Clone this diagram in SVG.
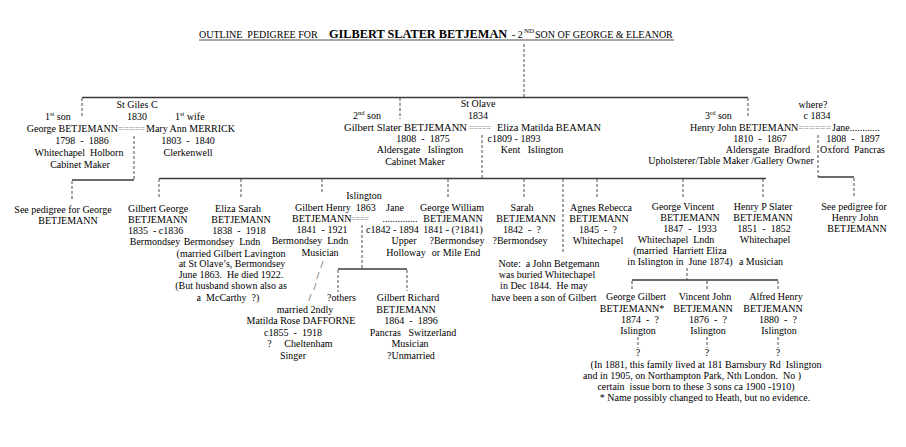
<svg xmlns="http://www.w3.org/2000/svg" width="906" height="447" viewBox="0 0 906 447">
<style>
text{font-family:"Liberation Serif","Times New Roman",serif;font-size:10px;fill:#000;white-space:pre}
.c{text-anchor:middle}
.e{text-anchor:end}
.eq{fill:#8a8a8a}
.sup{font-size:6.5px}
.h{stroke:#3a3a3a;stroke-width:1.4;fill:none}
.d{stroke:#4a4a4a;stroke-width:1;stroke-dasharray:3 2;fill:none}
</style>
<rect width="906" height="447" fill="#ffffff"/>
<g id="title">
<text x="199" y="37.5" style="font-size:10px">OUTLINE  PEDIGREE FOR</text>
<text x="329" y="37.5" style="font-size:12.3px;font-weight:bold">GILBERT SLATER BETJEMAN</text>
<text x="512" y="37.5">- 2</text>
<text x="524" y="33" style="font-size:7px">ND</text>
<text x="535" y="37.5">SON OF GEORGE &amp; ELEANOR</text>
<line x1="199" y1="40" x2="674" y2="40" stroke="#222" stroke-width="0.8"/>
</g>
<g id="connectors">
<path class="d" d="M524 44V97"/>
<path class="h" d="M82 97.5H748"/>
<path class="d" d="M82 98V116M400 98V119M748 98V116"/>
<path class="d" d="M134 136V180M72 181V199"/>
<path class="h" d="M72 180H134"/>
<path class="d" d="M482 135V178"/>
<path class="d" d="M818 135V177M854 178V198"/>
<path class="h" d="M818 177H854"/>
<path class="h" d="M159 178.5H766"/>
<path class="d" d="M159 179V199M241 179V199M322 179V192M448 179V198M524 179V198M563 179V254M597 179V199M683 179V199M763 179V199"/>
<path class="d" d="M362 225V269M338 270V292M407 270V291"/>
<path class="h" d="M338 269H407"/>
<path class="d" d="M687 268V280M632 281V291M707 281V291M778 281V291"/>
<path class="h" d="M632 280H778"/>
<path class="d" d="M638 337V348M707 337V348M778 337V348"/>
</g>
<g id="george">
<text class="c" x="137" y="108">St Giles C</text>
<text class="c" x="137" y="120">1830</text>
<text x="45" y="120">1<tspan class="sup" dy="-4">st</tspan><tspan dy="4"> son</tspan></text>
<text x="175" y="120">1<tspan class="sup" dy="-4">st</tspan><tspan dy="4"> wife</tspan></text>
<text class="e" x="118" y="132">George BETJEMANN</text>
<text class="eq" x="118" y="132" textLength="27" lengthAdjust="spacingAndGlyphs">=====</text>
<text x="146" y="132">Mary Ann MERRICK</text>
<text class="c" x="82" y="144">1798  -  1886</text>
<text class="c" x="188" y="144">1803  -  1840</text>
<text class="c" x="79" y="156">Whitechapel  Holborn</text>
<text class="c" x="188" y="156">Clerkenwell</text>
<text class="c" x="80" y="168">Cabinet Maker</text>
</g>
<g id="gilbert_slater">
<text class="c" x="478" y="107">St Olave</text>
<text class="c" x="478" y="119">1834</text>
<text x="353" y="119">2<tspan class="sup" dy="-4">nd</tspan><tspan dy="4"> son</tspan></text>
<text class="e" x="467" y="131" style="font-size:10.6px">Gilbert Slater BETJEMANN</text>
<text class="eq" x="469" y="131" textLength="22" lengthAdjust="spacingAndGlyphs">=====</text>
<text x="497" y="131" style="font-size:10.4px">Eliza Matilda BEAMAN</text>
<text class="c" x="423" y="142">1808  -  1875</text>
<text class="c" x="514" y="142">c1809 - 1893</text>
<text class="c" x="420" y="153">Aldersgate   Islington</text>
<text class="c" x="532" y="153">Kent   Islington</text>
<text class="c" x="415" y="165">Cabinet Maker</text>
</g>
<g id="henry_john">
<text class="c" x="813" y="108">where?</text>
<text class="c" x="817" y="119">c 1834</text>
<text x="705" y="119">3<tspan class="sup" dy="-4">rd</tspan><tspan dy="4"> son</tspan></text>
<text x="690" y="131">Henry John BETJEMANN</text>
<text class="eq" x="798" y="131" textLength="33" lengthAdjust="spacingAndGlyphs">======</text>
<text x="832" y="131">Jane............</text>
<text class="c" x="760" y="142">1810  -  1867</text>
<text class="c" x="853" y="142">1808  -  1897</text>
<text class="c" x="768" y="153">Aldersgate  Bradford</text>
<text x="820" y="153">Oxford  Pancras</text>
<text class="c" x="731" y="164">Upholsterer/Table Maker /Gallery Owner</text>
</g>
<g id="see_george">
<text class="c" x="63" y="213">See pedigree for George</text>
<text class="c" x="68" y="224">BETJEMANN</text>
</g>
<g id="see_henry">
<text class="c" x="854" y="210">See pedigree for</text>
<text class="c" x="855" y="221">Henry John</text>
<text class="c" x="857" y="232">BETJEMANN</text>
</g>
<g id="gilbert_george">
<text x="128" y="212">Gilbert George</text>
<text x="128" y="223">BETJEMANN</text>
<text x="128" y="234">1835  - c1836</text>
<text class="c" x="155" y="245">Bermondsey</text>
</g>
<g id="eliza_sarah">
<text class="c" x="238" y="212">Eliza Sarah</text>
<text class="c" x="241" y="223">BETJEMANN</text>
<text class="c" x="239" y="234">1838  -  1918</text>
<text class="c" x="222" y="245">Bermondsey  Lndn</text>
<text class="c" x="231" y="257">(married Gilbert Lavington</text>
<text class="c" x="232" y="267">at St Olave’s, Bermondsey</text>
<text class="c" x="231" y="278">June 1863.  He died 1922.</text>
<text class="c" x="231" y="289">(But husband shown also as</text>
<text class="c" x="228" y="301">a  McCarthy  ?)</text>
</g>
<g id="gilbert_henry">
<text class="c" x="364" y="199">Islington</text>
<text x="295" y="211">Gilbert Henry  1863</text>
<text x="292" y="222">BETJEMANN</text>
<text class="eq" x="351" y="222" textLength="18" lengthAdjust="spacingAndGlyphs">====</text>
<text class="c" x="322" y="233">1841  - 1921</text>
<text class="c" x="310" y="244">Bermondsey  Lndn</text>
<text class="c" x="320" y="256">Musician</text>
<text class="c" x="322" y="268">/</text>
<text class="c" x="318" y="279">/</text>
<text class="c" x="315" y="290">/</text>
<text class="c" x="310" y="301">/</text>
</g>
<g id="others">
<text x="327" y="301">?others</text>
</g>
<g id="matilda">
<text class="c" x="305" y="313">married 2ndly</text>
<text class="c" x="301" y="324">Matilda Rose DAFFORNE</text>
<text class="c" x="293" y="336">c1855  -  1918</text>
<text class="c" x="300" y="347">?     Cheltenham</text>
<text class="c" x="293" y="359">Singer</text>
</g>
<g id="jane">
<text class="c" x="395" y="211">Jane</text>
<text class="c" x="400" y="222">..............</text>
<text x="366" y="233">c1842 - 1894</text>
<text class="c" x="404" y="244">Upper</text>
<text class="c" x="406" y="256">Holloway</text>
</g>
<g id="gilbert_richard">
<text class="c" x="408" y="301">Gilbert Richard</text>
<text class="c" x="406" y="313">BETJEMANN</text>
<text class="c" x="411" y="324">1864  -  1896</text>
<text class="c" x="413" y="336">Pancras   Switzerland</text>
<text class="c" x="410" y="347">Musician</text>
<text class="c" x="411" y="359">?Unmarried</text>
</g>
<g id="george_william">
<text class="c" x="452" y="211">George William</text>
<text class="c" x="453" y="222">BETJEMANN</text>
<text class="c" x="453" y="233">1841 - (?1841)</text>
<text class="c" x="457" y="244">?Bermondsey</text>
<text class="c" x="456" y="256">or Mile End</text>
</g>
<g id="sarah">
<text class="c" x="522" y="211">Sarah</text>
<text class="c" x="526" y="222">BETJEMANN</text>
<text class="c" x="522" y="233">1842  -  ?</text>
<text class="c" x="520" y="244">?Bermondsey</text>
</g>
<g id="note">
<text class="c" x="549" y="267">Note:  a John Betgemann</text>
<text class="c" x="547" y="278">was buried Whitechapel</text>
<text class="c" x="544" y="289">in Dec 1844.  He may</text>
<text class="c" x="544" y="301">have been a son of Gilbert</text>
</g>
<g id="agnes">
<text class="c" x="601" y="211">Agnes Rebecca</text>
<text class="c" x="599" y="222">BETJEMANN</text>
<text class="c" x="598" y="233">1845  -  ?</text>
<text class="c" x="598" y="244">Whitechapel</text>
</g>
<g id="george_vincent">
<text class="c" x="683" y="210">George Vincent</text>
<text class="c" x="690" y="221">BETJEMANN</text>
<text class="c" x="690" y="232">1847  -  1933</text>
<text class="c" x="676" y="243">Whitechapel  Lndn</text>
<text class="c" x="680" y="254">(married  Harriett Eliza</text>
<text class="c" x="680" y="265">in Islington in  June 1874)</text>
</g>
<g id="henry_p">
<text class="c" x="763" y="210">Henry P Slater</text>
<text class="c" x="763" y="221">BETJEMANN</text>
<text class="c" x="764" y="232">1851  -  1852</text>
<text class="c" x="765" y="243">Whitechapel</text>
<text class="c" x="761" y="265">a Musician</text>
</g>
<g id="george_gilbert">
<text class="c" x="636" y="300">George Gilbert</text>
<text class="c" x="632" y="312">BETJEMANN*</text>
<text class="c" x="640" y="323">1874  -  ?</text>
<text class="c" x="638" y="334">Islington</text>
<text class="c" x="638" y="356">?</text>
</g>
<g id="vincent_john">
<text class="c" x="705" y="300">Vincent John</text>
<text class="c" x="703" y="312">BETJEMANN</text>
<text class="c" x="708" y="323">1876  -  ?</text>
<text class="c" x="708" y="334">Islington</text>
<text class="c" x="707" y="356">?</text>
</g>
<g id="alfred_henry">
<text class="c" x="776" y="300">Alfred Henry</text>
<text class="c" x="773" y="312">BETJEMANN</text>
<text class="c" x="778" y="323">1880  -  ?</text>
<text class="c" x="779" y="334">Islington</text>
<text class="c" x="778" y="356">?</text>
</g>
<g id="footnote">
<text class="c" x="706" y="368">(In 1881, this family lived at 181 Barnsbury Rd  Islington</text>
<text class="c" x="692" y="379">and in 1905, on Northampton Park, Nth London.  No )</text>
<text class="c" x="696" y="390">certain  issue born to these 3 sons ca 1900 -1910)</text>
<text class="c" x="705" y="401">* Name possibly changed to Heath, but no evidence.</text>
</g>
</svg>
